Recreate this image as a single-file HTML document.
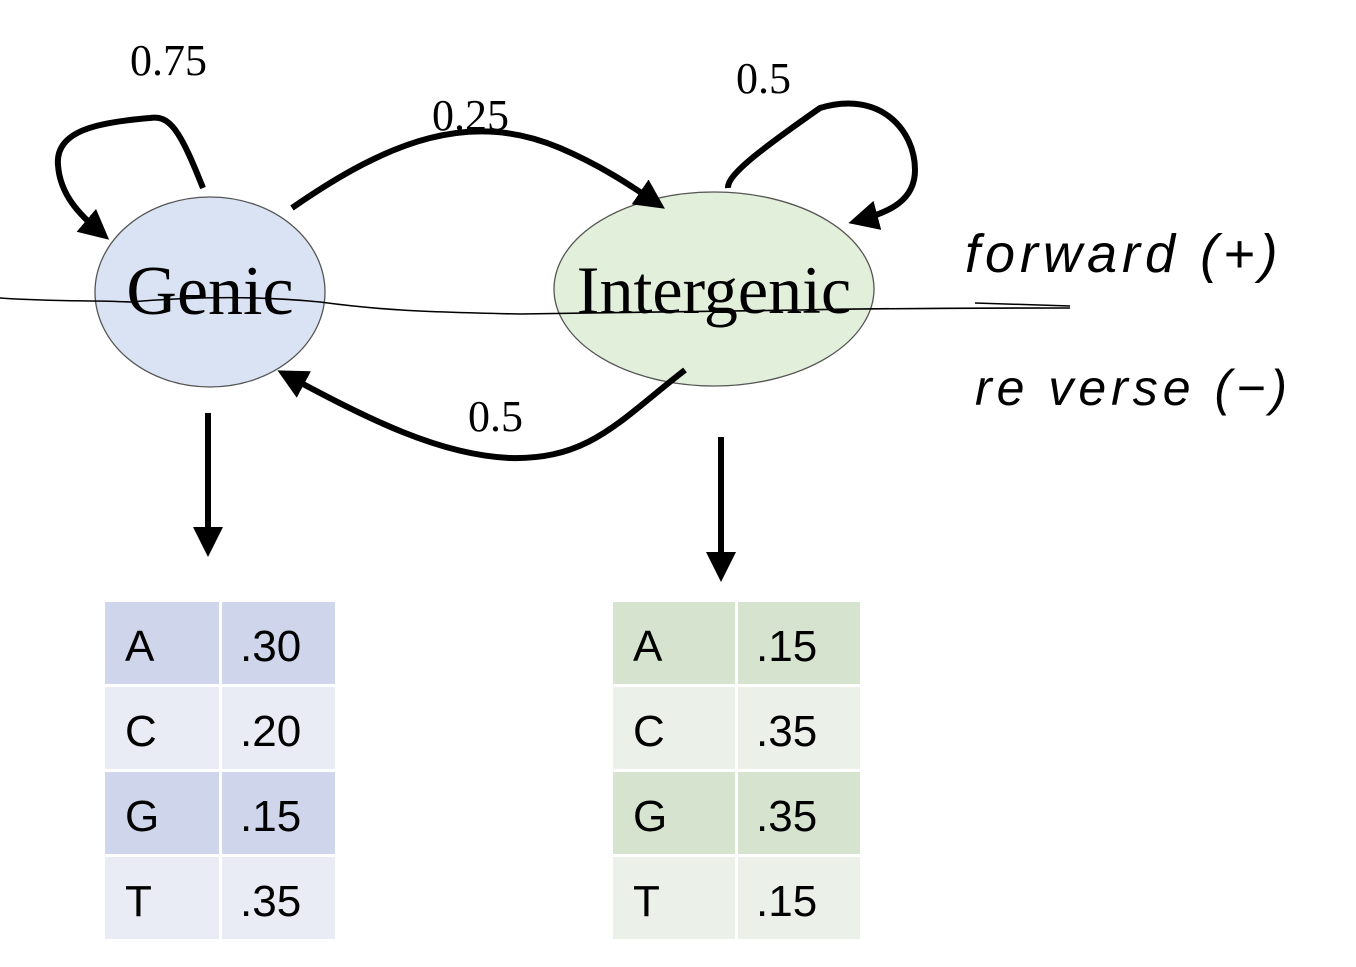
<!DOCTYPE html>
<html><head><meta charset="utf-8"><style>
body{margin:0;background:#fff;width:1356px;height:967px;overflow:hidden}
svg{display:block}
.tnr{font-family:"Liberation Serif",serif}
.cal{font-family:"Liberation Sans",sans-serif}
.hand{font-family:"Liberation Sans",sans-serif;font-style:italic;font-weight:normal}
</style></head><body>
<svg width="1356" height="967" viewBox="0 0 1356 967">
<defs><marker id="ah" markerWidth="6" markerHeight="6" refX="3" refY="3" orient="auto" markerUnits="strokeWidth"><path d="M0,0.5 L5,3 L0,5.5 Z" fill="#000"/></marker></defs>
<g>
<ellipse cx="210" cy="292" rx="115" ry="95" fill="#dae3f3" stroke="#555" stroke-width="1.3"/>
<text x="210" y="314" text-anchor="middle" class="tnr" font-size="70">Genic</text></g>
<g>
<ellipse cx="714" cy="289" rx="160" ry="97" fill="#e2efda" stroke="#555" stroke-width="1.3"/>
<text x="714" y="313" text-anchor="middle" class="tnr" font-size="68">Intergenic</text></g>
<g fill="none" stroke="#000" stroke-width="6" marker-end="url(#ah)">
<path d="M203,188 C180,130 170,115 150,118 C100,122 55,130 58,165 C60,195 80,215 100,232"/>
<path d="M728,188 C727,175 760,150 820,108 C880,90 915,130 915,170 C915,200 890,212 860,220"/>
<path d="M292,208 C390,140 470,110 560,148 C600,165 630,185 655,202"/>
<path d="M685,370 C620,420 590,460 510,458 C440,455 370,420 288,376"/>
<path d="M208,413 L208,545"/>
<path d="M721,437 L721,570"/>
</g>
<g class="tnr" font-size="44">
<text x="130" y="75">0.75</text>
<text x="432" y="130">0.25</text>
<text x="736" y="93">0.5</text>
<text x="468" y="431">0.5</text>
</g>
<path d="M0,298 C60,302 90,300 130,302 C200,296 260,296 320,302 C380,310 420,312 520,314 C600,312 700,312 800,310 C900,308 1000,308 1070,308" fill="none" stroke="#000" stroke-width="1.6"/>
<line x1="975" y1="303" x2="1070" y2="306" stroke="#000" stroke-width="1.5"/>
<text x="965" y="272" class="hand" font-size="54" letter-spacing="5">forward (+)</text>
<text x="975" y="405" class="hand" font-size="50" letter-spacing="5">re verse (−)</text>
<g id="tables"></g>
</svg>
<script>
const bases=['A','C','G','T'];
const genicProbs=['.30','.20','.15','.35'];
const interProbs=['.15','.35','.35','.15'];
const g=document.getElementById('tables');
const NS='http://www.w3.org/2000/svg';
function table(x0,split,x1,vals,dark,light,name){
  const grp=document.createElementNS(NS,'g');
  
  
  const y0=602,h=85;
  bases.forEach((b,i)=>{
    const y=y0+i*h;
    const col=i%2===0?dark:light;
    [[x0,split-x0-1],[split+2,x1-split-2]].forEach(([x,w])=>{
      const r=document.createElementNS(NS,'rect');
      r.setAttribute('x',x);r.setAttribute('y',y);r.setAttribute('width',w);r.setAttribute('height',h-3);r.setAttribute('fill',col);
      
      
      grp.appendChild(r);
    });
    const t1=document.createElementNS(NS,'text');
    t1.setAttribute('x',x0+20);t1.setAttribute('y',y+59);t1.setAttribute('class','cal');t1.setAttribute('font-size','44');
    t1.textContent=b;
    
    
    grp.appendChild(t1);
    const t2=document.createElementNS(NS,'text');
    t2.setAttribute('x',split+20);t2.setAttribute('y',y+59);t2.setAttribute('class','cal');t2.setAttribute('font-size','44');
    t2.textContent=vals[i];
    
    
    grp.appendChild(t2);
  });
  g.appendChild(grp);
}
table(105,220,335,genicProbs,'#cfd5ea','#e9ebf5','genic-emission-table');
table(613,736,860,interProbs,'#d5e3cf','#ebf1e9','intergenic-emission-table');
</script>
</body></html>
